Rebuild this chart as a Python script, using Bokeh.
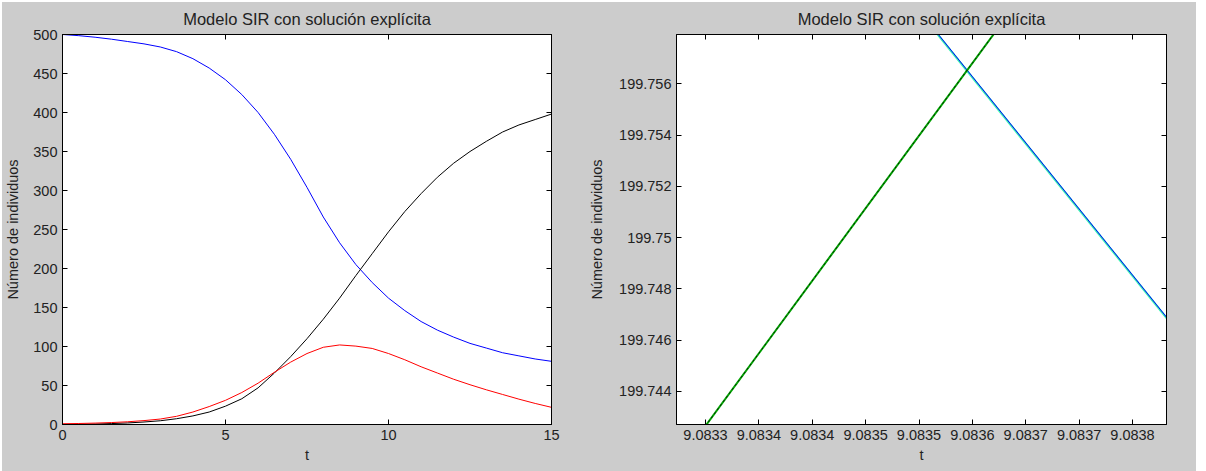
from bokeh.plotting import figure
from bokeh.models import FixedTicker, LinearAxis, Range1d, Spacer
from bokeh.layouts import row, column
from bokeh.embed import file_html
from bokeh.resources import INLINE

# ---------------- data ----------------
t = [0, 0.5, 1, 1.5, 2, 2.5, 3, 3.5, 4, 4.5, 5, 5.5, 6, 6.5, 7, 7.5, 8,
     8.5, 9, 9.5, 10, 10.5, 11, 11.5, 12, 12.5, 13, 13.5, 14, 14.5, 15]
S = [500, 498.5, 496.5, 494, 491, 488, 484, 478, 469, 457, 442, 423, 400,
     372, 340, 304, 266, 233, 205, 182, 162, 146, 132, 121, 112, 104, 98,
     92, 88, 84, 81]
I = [1, 1.3, 1.8, 2.5, 3.5, 5, 7, 10.5, 16, 23, 31, 41, 53, 67, 80, 91,
     99, 102, 100.5, 97.5, 91, 83, 74, 66, 58, 51, 44.5, 38.5, 32.5, 27, 22]
R = [0, 0.2, 0.6, 1.2, 2, 3.2, 4.8, 7.4, 11, 16, 23.5, 33, 47, 66, 87,
     110, 135, 162, 191, 219, 247, 273, 296, 317, 335, 350, 363, 375, 384,
     391, 398]

t_zoom = [9.0832, 9.0839]
R_zoom_explicit = [199.73794, 199.77095]
R_zoom_numeric = [199.73794, 199.77095]
S_zoom_explicit = [199.77347, 199.74338]
S_zoom_numeric = [199.77344, 199.74335]

x_ticks_left = [0, 5, 10, 15]
y_ticks_left = [0, 50, 100, 150, 200, 250, 300, 350, 400, 450, 500]

x_ticks_zoom = [9.0833, 9.08336, 9.08342, 9.08348, 9.08354, 9.0836,
                9.08366, 9.08372, 9.08378]
x_labels_zoom = ["9.0833", "9.0834", "9.0834", "9.0835", "9.0835",
                 "9.0836", "9.0837", "9.0837", "9.0838"]
y_ticks_zoom = [199.744, 199.746, 199.748, 199.75, 199.752, 199.754, 199.756]
y_labels_zoom = ["199.744", "199.746", "199.748", "199.75", "199.752",
                 "199.754", "199.756"]

title_text = "Modelo SIR con solución explícita"
xlabel = "t"
ylabel = "Número de individuos"

GREY = "#cccccc"
FONT = "Liberation Sans"
TXT = "#222222"
FS_TICK = "14.5px"
FS_LABEL = "14.5px"
FS_TITLE = "16.5px"


def make_fig(width, height, xr, yr, bl, br, bt, bb):
    p = figure(width=width, height=height, x_range=xr, y_range=yr,
               output_backend="svg", toolbar_location=None,
               min_border_left=bl, min_border_right=br,
               min_border_top=bt, min_border_bottom=bb)
    p.border_fill_color = GREY
    p.background_fill_color = "white"
    p.outline_line_color = "black"
    p.outline_line_width = 1
    p.xgrid.visible = False
    p.ygrid.visible = False
    p.title.text = title_text
    p.title.align = "center"
    p.title.vertical_align = "top"
    p.title.text_font = FONT
    p.title.text_font_size = FS_TITLE
    p.title.text_font_style = "normal"
    p.title.text_color = TXT
    p.title.standoff = 10
    return p


def style_axis(ax, label=None, standoff=5):
    ax.major_tick_in = 5
    ax.major_tick_out = 0
    ax.minor_tick_line_color = None
    ax.axis_line_color = "black"
    ax.major_tick_line_color = "black"
    ax.major_label_text_font = FONT
    ax.major_label_text_font_size = FS_TICK
    ax.major_label_text_color = TXT
    ax.major_label_standoff = 5
    if label is not None:
        ax.axis_label = label
        ax.axis_label_text_font = FONT
        ax.axis_label_text_font_size = FS_LABEL
        ax.axis_label_text_font_style = "normal"
        ax.axis_label_text_color = TXT
        ax.axis_label_standoff = standoff


def add_mirror(p, xticks, yticks):
    top = LinearAxis(ticker=FixedTicker(ticks=xticks))
    right = LinearAxis(ticker=FixedTicker(ticks=yticks))
    for ax in (top, right):
        ax.major_tick_in = 5
        ax.major_tick_out = 0
        ax.minor_tick_line_color = None
        ax.axis_line_color = "black"
        ax.major_tick_line_color = "black"
        ax.major_label_text_color = None
        ax.major_label_standoff = 0
    p.add_layout(top, "above")
    p.add_layout(right, "right")


H = 469

# ---------------- left figure ----------------
p1 = make_fig(580, H, Range1d(0, 15), Range1d(0, 500), 56, 31, 32, 47)
p1.line(t, S, line_color="blue", line_width=1)
p1.line(t, R, line_color="black", line_width=1)
p1.line(t, I, line_color="red", line_width=1)
p1.xaxis.ticker = FixedTicker(ticks=x_ticks_left)
p1.yaxis.ticker = FixedTicker(ticks=y_ticks_left)
style_axis(p1.xaxis[0], xlabel, 4)
style_axis(p1.yaxis[0], ylabel, 9)
add_mirror(p1, x_ticks_left, y_ticks_left)

# ---------------- right figure ----------------
p2 = make_fig(614, H, Range1d(9.0832674, 9.0838182),
              Range1d(199.74271, 199.75792), 94, 30, 32, 47)
p2.line(t_zoom, S_zoom_numeric, line_color="#3cf0b4", line_width=2.2)
p2.line(t_zoom, S_zoom_explicit, line_color="blue", line_width=1)
p2.line(t_zoom, R_zoom_numeric, line_color="#00a000", line_width=2)
p2.line(t_zoom, R_zoom_explicit, line_color="black", line_width=1,
        line_dash="2 3", line_alpha=0.8)
p2.xaxis.ticker = FixedTicker(ticks=x_ticks_zoom)
p2.yaxis.ticker = FixedTicker(ticks=y_ticks_zoom)
p2.xaxis.major_label_overrides = dict(zip(x_ticks_zoom, x_labels_zoom))
p2.yaxis.major_label_overrides = dict(zip(y_ticks_zoom, y_labels_zoom))
style_axis(p2.xaxis[0], xlabel, 4)
style_axis(p2.yaxis[0], ylabel, 11)
add_mirror(p2, x_ticks_zoom, y_ticks_zoom)

inner = row(p1, p2, styles={"background-color": GREY})
layout = column(Spacer(height=2), row(Spacer(width=2), inner))
open("out.html", "w").write(file_html(layout, INLINE))
